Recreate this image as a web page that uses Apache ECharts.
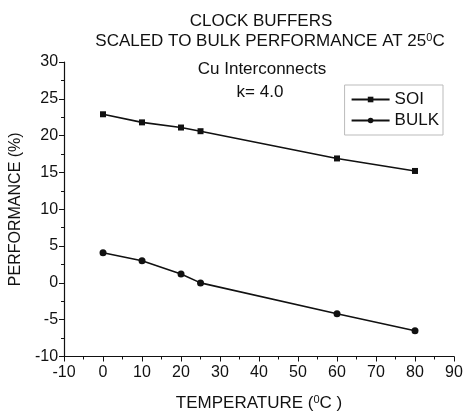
<!DOCTYPE html>
<html>
<head>
<meta charset="utf-8">
<script src="https://cdn.jsdelivr.net/npm/echarts@6/dist/echarts.min.js"></script>
<style>
  html, body { margin: 0; padding: 0; background: #fff; }
  #chart { width: 467px; height: 417px; }
</style>
</head>
<body>
<div id="chart"></div>
<script>
// temperatures (deg C) and performance (%)
var temps = [0, 10, 20, 25, 60, 80];
var soi = [22.9, 21.8, 21.1, 20.6, 16.9, 15.2];
var bulk = [4.1, 3.0, 1.2, 0.0, -4.2, -6.5];

var FONT = 'Liberation Sans, Arial, sans-serif';
var TITLE_SIZE = 17;

function pairs(xs, ys) {
    return xs.map(function (x, i) { return [x, ys[i]]; });
}

function titleLine(text, x, y) {
    return {
        text: text, left: x, top: y, textAlign: 'center',
        textStyle: { fontSize: TITLE_SIZE, fontWeight: 'normal', color: '#111', fontFamily: FONT,
            rich: { sup: { fontSize: 11, verticalAlign: 'top', padding: [0, 0, 7, 0], color: '#111', fontFamily: FONT } } }
    };
}

var chart = echarts.init(document.getElementById('chart'));

chart.setOption({
    animation: false,
    backgroundColor: '#fff',
    textStyle: { fontFamily: FONT, color: '#111' },
    title: [
        titleLine('CLOCK BUFFERS', 256, 8),
        titleLine('SCALED TO BULK PERFORMANCE AT 25{sup|0}C', 265, 27),
        titleLine('Cu Interconnects', 257, 56),
        titleLine('k= 4.0', 255, 79)
    ],
    legend: {
        right: 24, top: 85,
        orient: 'vertical',
        itemGap: 4,
        itemWidth: 38, itemHeight: 7,
        padding: [6, 4, 6, 6],
        borderColor: '#bbb', borderWidth: 1,
        backgroundColor: '#fff',
        textStyle: { fontSize: 17, color: '#111', fontFamily: FONT },
        data: ['SOI', 'BULK']
    },
    grid: { left: 64, right: 13, top: 62, bottom: 53, containLabel: false },
    xAxis: {
        type: 'value', min: -10, max: 90, interval: 10,
        name: 'TEMPERATURE ({sup|0}C )', nameLocation: 'middle', nameGap: 38,
        nameTextStyle: { fontSize: 17, color: '#111', fontFamily: FONT,
            rich: { sup: { fontSize: 11, verticalAlign: 'top', padding: [0, 0, 7, 0], color: '#111', fontFamily: FONT } } },
        axisLine: { onZero: false, lineStyle: { color: '#111', width: 1.2 } },
        axisTick: { length: 5, lineStyle: { color: '#111' } },
        minorTick: { show: true, splitNumber: 2, length: 3, lineStyle: { color: '#111' } },
        axisLabel: { fontSize: 16, color: '#111', margin: 8, fontFamily: FONT },
        splitLine: { show: false }
    },
    yAxis: {
        type: 'value', min: -10, max: 30, interval: 5,
        name: 'PERFORMANCE (%)', nameLocation: 'middle', nameGap: 36,
        nameTextStyle: { fontSize: 16, color: '#111', fontFamily: FONT },
        axisLine: { show: true, onZero: false, lineStyle: { color: '#111', width: 1.2 } },
        axisTick: { show: true, length: 5, lineStyle: { color: '#111' } },
        minorTick: { show: true, splitNumber: 2, length: 3, lineStyle: { color: '#111' } },
        axisLabel: { fontSize: 16, color: '#111', margin: 6, fontFamily: FONT },
        splitLine: { show: false }
    },
    series: [
        {
            name: 'SOI', type: 'line', data: pairs(temps, soi),
            symbol: 'rect', symbolSize: 6,
            itemStyle: { color: '#111' },
            lineStyle: { color: '#111', width: 1.6 }
        },
        {
            name: 'BULK', type: 'line', data: pairs(temps, bulk),
            symbol: 'circle', symbolSize: 7,
            itemStyle: { color: '#111' },
            lineStyle: { color: '#111', width: 1.6 }
        }
    ]
});
</script>
</body>
</html>
